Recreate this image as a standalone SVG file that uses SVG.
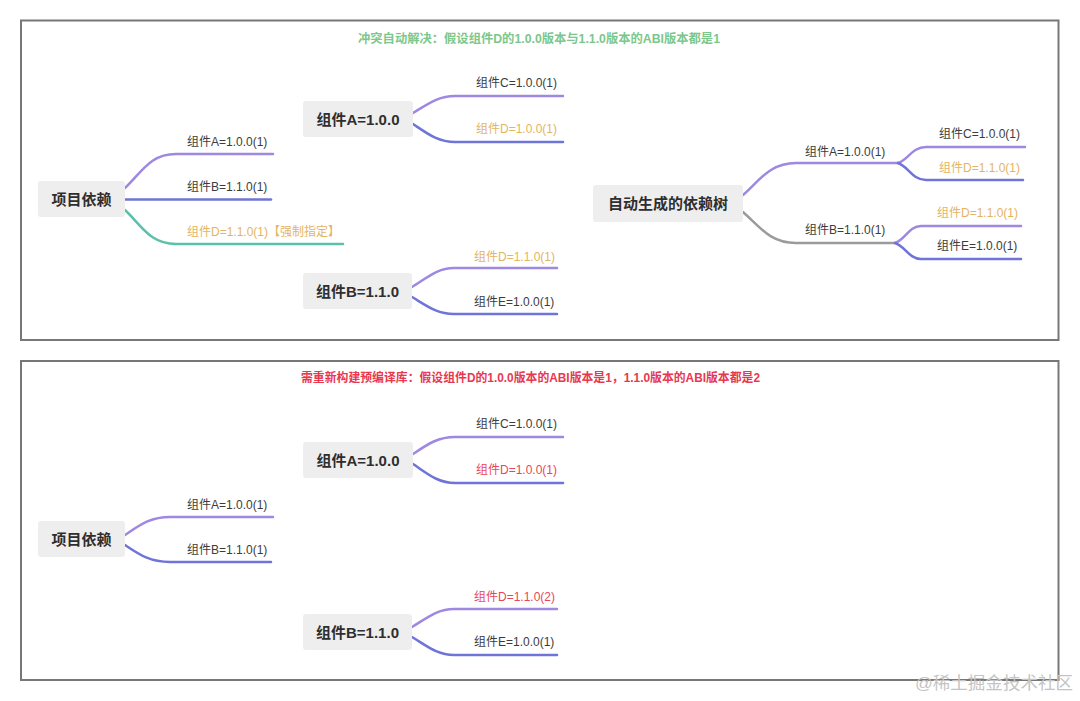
<svg xmlns="http://www.w3.org/2000/svg" width="1080" height="701" viewBox="0 0 1080 701">
<style>
text{font-family:"Liberation Sans","Noto Sans CJK SC",sans-serif}
.panel{fill:#fff;stroke:#777;stroke-width:2}
.box{fill:#eeeeee}
.bt{font-size:15px;font-weight:bold;fill:#2e2e2e;text-anchor:middle}
.lb{font-size:12px;fill:#3c3c3c}
.gold{fill:#e4b462}
.red{fill:#e8475a}
.ln{fill:none;stroke-width:2.5;stroke-linecap:round}
.pu{stroke:#9e88e2}
.bl{stroke:#6f74d8}
.te{stroke:#5cc0aa}
.gr{stroke:#9b9b9b}
.title{font-size:12px;font-weight:bold;text-anchor:middle}
</style>
<rect width="1080" height="701" fill="#fff"/>
<rect class="panel" x="21" y="20.5" width="1037.5" height="319.5"/>
<rect class="panel" x="21" y="361" width="1037.5" height="319"/>
<text class="title" x="539" y="43" fill="#7cc78b" textLength="362" lengthAdjust="spacingAndGlyphs">冲突自动解决：假设组件D的1.0.0版本与1.1.0版本的ABI版本都是1</text>
<text class="title" x="530.5" y="382" fill="#e8384f" textLength="459" lengthAdjust="spacingAndGlyphs">需重新构建预编译库：假设组件D的1.0.0版本的ABI版本是1，1.1.0版本的ABI版本都是2</text>
<g id="connectors">
<path class="ln pu" d="M125,188 C142,172 150,154 176,154 H273"/>
<path class="ln bl" d="M125,199.5 H271"/>
<path class="ln te" d="M125,210 C142,226 150,244 176,244 H343"/>
<path class="ln pu" d="M413,113 C428,104 438,96 455,96 H563"/>
<path class="ln bl" d="M413,124 C428,134 438,142 455,142 H563"/>
<path class="ln pu" d="M412,287 C427,278 437,268 454,268 H557"/>
<path class="ln bl" d="M412,297 C427,306 437,314 454,314 H557"/>
<path class="ln pu" d="M743,195 C760,180 770,163 796,163 H898"/>
<path class="ln gr" d="M743,212 C760,227 770,243 796,243 H895"/>
<path class="ln pu" d="M898,163 C908,160 912,147 926,147 H1025"/>
<path class="ln bl" d="M898,163 C908,166 912,180 926,180 H1023"/>
<path class="ln pu" d="M895,243 C905,240 909,226 921,226 H1021"/>
<path class="ln bl" d="M895,243 C905,246 909,259 921,259 H1021"/>
<path class="ln pu" d="M125,535 C140,525 150,517 170,517 H273"/>
<path class="ln bl" d="M125,545 C140,555 150,562 170,562 H271"/>
<path class="ln pu" d="M413,454 C428,444 438,437 455,437 H563"/>
<path class="ln bl" d="M413,464 C428,474 438,483 455,483 H563"/>
<path class="ln pu" d="M412,627 C427,618 437,609 454,609 H557"/>
<path class="ln bl" d="M412,637 C427,646 437,655 454,655 H557"/>
</g>
<g id="root-top"><rect class="box" x="38" y="181" width="87" height="36" rx="3"/><text class="bt" x="81.5" y="204.5">项目依赖</text></g>
<g id="compA-top"><rect class="box" x="303" y="101" width="110" height="36" rx="3"/><text class="bt" x="358" y="124.5">组件A=1.0.0</text></g>
<g id="compB-top"><rect class="box" x="303" y="273" width="109" height="36" rx="3"/><text class="bt" x="357.5" y="296.5">组件B=1.1.0</text></g>
<g id="auto-tree"><rect class="box" x="593" y="185" width="150" height="37" rx="3"/><text class="bt" x="668" y="209">自动生成的依赖树</text></g>
<g id="root-bottom"><rect class="box" x="38" y="521" width="87" height="36" rx="3"/><text class="bt" x="81.5" y="544.5">项目依赖</text></g>
<g id="compA-bottom"><rect class="box" x="303" y="442" width="110" height="36" rx="3"/><text class="bt" x="358" y="465.5">组件A=1.0.0</text></g>
<g id="compB-bottom"><rect class="box" x="303" y="614" width="109" height="36" rx="3"/><text class="bt" x="357.5" y="637.5">组件B=1.1.0</text></g>
<g id="labels">
<text class="lb" x="187" y="146">组件A=1.0.0(1)</text>
<text class="lb" x="187" y="191">组件B=1.1.0(1)</text>
<text class="lb gold" x="187" y="236">组件D=1.1.0(1)【强制指定】</text>
<text class="lb" x="476" y="87">组件C=1.0.0(1)</text>
<text class="lb gold" x="476" y="133">组件D=1.0.0(1)</text>
<text class="lb gold" x="474" y="261">组件D=1.1.0(1)</text>
<text class="lb" x="474" y="306">组件E=1.0.0(1)</text>
<text class="lb" x="805" y="156">组件A=1.0.0(1)</text>
<text class="lb" x="805" y="234">组件B=1.1.0(1)</text>
<text class="lb" x="939" y="138">组件C=1.0.0(1)</text>
<text class="lb gold" x="939" y="172">组件D=1.1.0(1)</text>
<text class="lb gold" x="937" y="217">组件D=1.1.0(1)</text>
<text class="lb" x="937" y="250">组件E=1.0.0(1)</text>
<text class="lb" x="187" y="509">组件A=1.0.0(1)</text>
<text class="lb" x="187" y="554">组件B=1.1.0(1)</text>
<text class="lb" x="476" y="428">组件C=1.0.0(1)</text>
<text class="lb red" x="476" y="474">组件D=1.0.0(1)</text>
<text class="lb red" x="474" y="601">组件D=1.1.0(2)</text>
<text class="lb" x="474" y="646">组件E=1.0.0(1)</text>
</g>
<text x="915" y="689" style="font-size:17px;fill:#c4c4c4" textLength="158" lengthAdjust="spacingAndGlyphs">@稀土掘金技术社区</text>
</svg>
